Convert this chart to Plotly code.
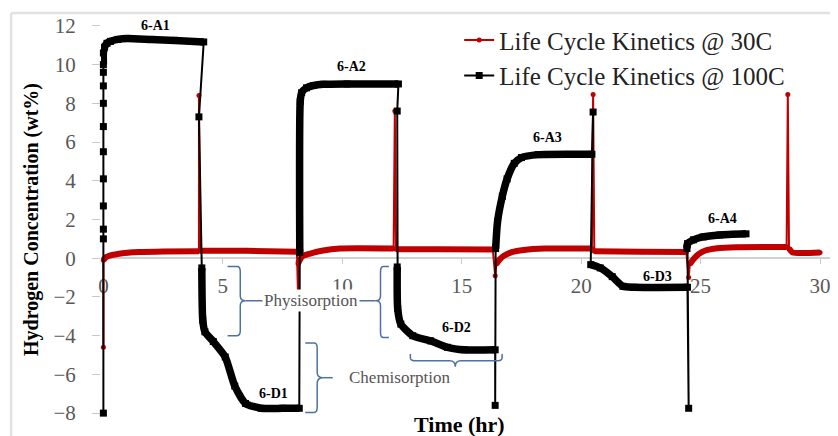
import plotly.graph_objects as go

# ---- Life cycle kinetics @ 30C (time hr, H2 wt%) ----
# first reading, then the smooth baseline pieces, split at the spikes
r_start_t = [0.0]
r_start_w = [-4.6]
r_base1_t = [0.0, 0.1, 0.3, 0.6, 1.0, 1.5, 2.5, 4.0]
r_base1_w = [-0.1, 0.05, 0.15, 0.22, 0.28, 0.32, 0.35, 0.36]
r_base2_t = [4.05, 6.0, 8.1]
r_base2_w = [0.38, 0.38, 0.34]
r_base3_t = [8.15, 8.33, 8.66, 9.2, 9.9, 12.15]
r_base3_w = [-0.28, 0.1, 0.24, 0.4, 0.5, 0.5]
r_base4_t = [12.25, 14.0, 16.3]
r_base4_w = [0.47, 0.46, 0.45]
r_base5_t = [16.45, 16.6, 16.8, 17.1, 17.6, 18.5, 20.45]
r_base5_w = [-0.3, -0.05, 0.15, 0.32, 0.43, 0.5, 0.5]
r_base6_t = [20.55, 22.5, 24.4]
r_base6_w = [0.36, 0.34, 0.32]
r_base7_t = [24.55, 24.7, 24.9, 25.2, 25.7, 26.5, 28.6]
r_base7_w = [-0.3, -0.05, 0.2, 0.4, 0.52, 0.57, 0.58]
r_base8_t = [28.7, 28.85, 30.0]
r_base8_w = [0.5, 0.3, 0.3]
# spikes / dips where the gas was switched
r_spike_t = [4.0, 8.15, 12.2, 16.4, 20.5, 24.5, 28.65]
r_spike_w = [8.4, -2.0, 7.6, -0.9, 8.45, -1.0, 8.45]

# ---- Life cycle kinetics @ 100C ----
# readings at t=0 while loading
b_start_t = [0, 0, 0, 0, 0, 0, 0, 0, 0, 0]
b_start_w = [-8.0, 1.0, 1.5, 2.7, 4.1, 5.5, 6.8, 8.0, 8.9, 9.6]
# adsorption (A) and desorption (D) steps
a1_t = [0.0, 0.0, 0.05, 0.15, 0.3, 0.6, 1.0, 2.0, 3.0, 4.2]
a1_w = [10.0, 10.6, 10.9, 11.1, 11.2, 11.3, 11.35, 11.3, 11.25, 11.17]
d1_t = [4.12, 4.16, 4.25, 4.6, 5.1, 5.5, 5.95, 6.6, 7.5, 8.2]
d1_w = [-0.5, -3.2, -3.8, -4.3, -5.1, -6.6, -7.5, -7.75, -7.75, -7.75]
a2_t = [8.22, 8.24, 8.3, 8.5, 8.8, 9.2, 10.2, 12.35]
a2_w = [0.3, 8.1, 8.55, 8.8, 8.92, 8.98, 9.0, 9.0]
d2_t = [12.3, 12.32, 12.45, 12.95, 13.7, 14.4, 15.1, 16.4]
d2_w = [-0.45, -2.6, -3.4, -4.0, -4.27, -4.6, -4.73, -4.73]
a3_t = [16.42, 16.5, 16.7, 16.9, 17.2, 17.5, 18.2, 20.45]
a3_w = [0.5, 1.9, 3.2, 4.1, 4.9, 5.2, 5.35, 5.37]
d3_t = [20.4, 20.8, 21.3, 21.75, 22.2, 24.45]
d3_w = [-0.33, -0.5, -0.95, -1.45, -1.5, -1.5]
a4_t = [24.43, 24.45, 24.7, 25.1, 25.8, 26.9]
a4_w = [0.5, 0.75, 0.95, 1.1, 1.2, 1.26]
# single readings at each switch between steps
sw_t = [4.0, 12.3, 16.4, 20.5, 24.5]
sw_w = [7.3, 7.6, -7.6, 7.55, -7.75]

step_labels = ["6-A1", "6-A2", "6-A3", "6-A4", "6-D1", "6-D2", "6-D3"]
label_t = [2.2, 10.4, 18.6, 25.9, 7.1, 14.8, 23.2]
label_w = [12.0, 9.9, 6.25, 2.05, -7.0, -3.6, -0.93]

RED = "#c00000"
BLUE = "#4f71a0"
SERIF = "Liberation Serif"


def join(pieces, gaps=False):
    t, w = [], []
    for pt, pw in pieces:
        t += list(pt)
        w += list(pw)
        if gaps:
            t.append(None)
            w.append(None)
    return t, w


red_bases = [(r_base1_t, r_base1_w), (r_base2_t, r_base2_w), (r_base3_t, r_base3_w),
             (r_base4_t, r_base4_w), (r_base5_t, r_base5_w), (r_base6_t, r_base6_w),
             (r_base7_t, r_base7_w), (r_base8_t, r_base8_w)]
red_path = [(r_start_t, r_start_w)]
for i, base in enumerate(red_bases):
    red_path.append(base)
    if i < len(r_spike_t):
        red_path.append(([r_spike_t[i]], [r_spike_w[i]]))

black_steps = [(a1_t, a1_w), (d1_t, d1_w), (a2_t, a2_w), (d2_t, d2_w),
               (a3_t, a3_w), (d3_t, d3_w), (a4_t, a4_w)]
# which switch reading follows each step
switch_after = {0: 0, 2: 1, 3: 2, 4: 3, 5: 4}
black_path = [(b_start_t, b_start_w)]
for i, step in enumerate(black_steps):
    black_path.append(step)
    if i in switch_after:
        k = switch_after[i]
        black_path.append(([sw_t[k]], [sw_w[k]]))

fig = go.Figure()

rt, rw = join(red_path)
fig.add_trace(go.Scatter(x=rt, y=rw, mode="lines+markers", name="Life Cycle Kinetics @ 30C",
                         line=dict(color=RED, width=2), marker=dict(color=RED, size=5),
                         cliponaxis=False))
rt, rw = join(red_bases, gaps=True)
fig.add_trace(go.Scatter(x=rt, y=rw, mode="lines", showlegend=False,
                         line=dict(color=RED, width=6, shape="spline", smoothing=0.6),
                         hoverinfo="skip"))

bt, bw = join(black_path)
fig.add_trace(go.Scatter(x=bt, y=bw, mode="lines+markers", name="Life Cycle Kinetics @ 100C",
                         line=dict(color="black", width=2),
                         marker=dict(color="black", size=7, symbol="square"),
                         cliponaxis=False))
bt, bw = join(black_steps, gaps=True)
fig.add_trace(go.Scatter(x=bt, y=bw, mode="lines", showlegend=False,
                         line=dict(color="black", width=7.5, shape="spline", smoothing=0.6),
                         hoverinfo="skip"))

for lab, t, w in zip(step_labels, label_t, label_w):
    fig.add_annotation(x=t, y=w, text=lab, showarrow=False,
                       font=dict(family=SERIF, size=14, color="black", weight="bold"))

# physisorption / chemisorption brackets
bracket = dict(type="path", xref="x", yref="y", line=dict(color=BLUE, width=1.5))
fig.add_shape(path="M 5.2,-0.43 L 5.6,-0.43 Q 5.73,-0.43 5.73,-0.7 L 5.73,-1.95 "
                   "Q 5.73,-2.2 5.95,-2.2 Q 5.73,-2.2 5.73,-2.45 L 5.73,-3.75 "
                   "Q 5.73,-4.0 5.6,-4.0 L 5.2,-4.0", **bracket)
fig.add_shape(path="M 11.95,-0.43 L 11.73,-0.43 Q 11.6,-0.43 11.6,-0.7 L 11.6,-1.95 "
                   "Q 11.6,-2.2 11.4,-2.2 Q 11.6,-2.2 11.6,-2.45 L 11.6,-3.85 "
                   "Q 11.6,-4.1 11.73,-4.1 L 11.95,-4.1", **bracket)
fig.add_shape(path="M 5.95,-2.2 L 11.4,-2.2", **bracket)
fig.add_shape(path="M 8.45,-4.38 L 8.82,-4.38 Q 8.95,-4.38 8.95,-4.65 L 8.95,-5.9 "
                   "Q 8.95,-6.17 9.2,-6.17 Q 8.95,-6.17 8.95,-6.45 L 8.95,-7.7 "
                   "Q 8.95,-7.97 8.82,-7.97 L 8.45,-7.97", **bracket)
fig.add_shape(path="M 9.2,-6.17 L 9.6,-6.17", **bracket)
fig.add_shape(path="M 12.85,-4.95 L 12.85,-5.15 Q 12.85,-5.3 13.1,-5.3 L 14.5,-5.3 "
                   "Q 14.73,-5.3 14.73,-5.6 Q 14.73,-5.3 14.96,-5.3 L 16.45,-5.3 "
                   "Q 16.69,-5.3 16.69,-5.15 L 16.69,-4.95", **bracket)

fig.add_annotation(x=8.7, y=-2.2, text="Physisorption", showarrow=False, bgcolor="white",
                   font=dict(family=SERIF, size=17, color="#555555"))
fig.add_annotation(x=12.4, y=-6.17, text="Chemisorption", showarrow=False, bgcolor="white",
                   font=dict(family=SERIF, size=17, color="#555555"))

fig.add_annotation(x=0.491, y=-0.02, xref="paper", yref="paper", text="<b>Time (hr)</b>",
                   showarrow=False, yanchor="middle",
                   font=dict(family=SERIF, size=22, color="black"))

# light frame of the screenshot
frame = dict(type="line", xref="paper", yref="paper", line=dict(color="#e2e2e2", width=2.5))
fig.add_shape(x0=-0.123, x1=1.02, y0=1.0226, y1=1.0226, **frame)
fig.add_shape(x0=-0.123, x1=-0.123, y0=1.0226, y1=-0.06, **frame)

# the page body keeps an 8px margin, so the figure is 8px smaller on each side
fig.update_layout(
    width=830, height=428,
    margin=dict(l=93, r=6, t=11, b=19),
    plot_bgcolor="white", paper_bgcolor="white",
    font=dict(family=SERIF, color="#555555"),
    legend=dict(x=0.49, y=1.012, xanchor="left", yanchor="top",
                font=dict(family=SERIF, size=25, color="#222222"),
                bgcolor="rgba(0,0,0,0)", itemwidth=30, tracegroupgap=0),
)
fig.update_xaxes(
    range=[-0.1, 30.5], tick0=0, dtick=5, anchor="free", position=0.402,
    showline=True, linecolor="#d0d0d0", linewidth=1.5,
    ticks="outside", ticklen=5, tickcolor="#c8c8c8",
    tickfont=dict(family=SERIF, size=21, color="#595959"), ticklabelstandoff=4,
    showgrid=False, zeroline=False, layer="below traces",
)
fig.update_yaxes(
    range=[-8.2, 12.2], dtick=2, showline=False,
    ticks="outside", ticklen=8, tickcolor="#c8c8c8",
    tickfont=dict(family=SERIF, size=21, color="#595959"), ticklabelstandoff=12,
    showgrid=False, zeroline=False,
    title=dict(text="<b>Hydrogen Concentration (wt%)</b>", standoff=9,
               font=dict(family=SERIF, size=20, color="black")),
)

fig.write_html("out.html")
